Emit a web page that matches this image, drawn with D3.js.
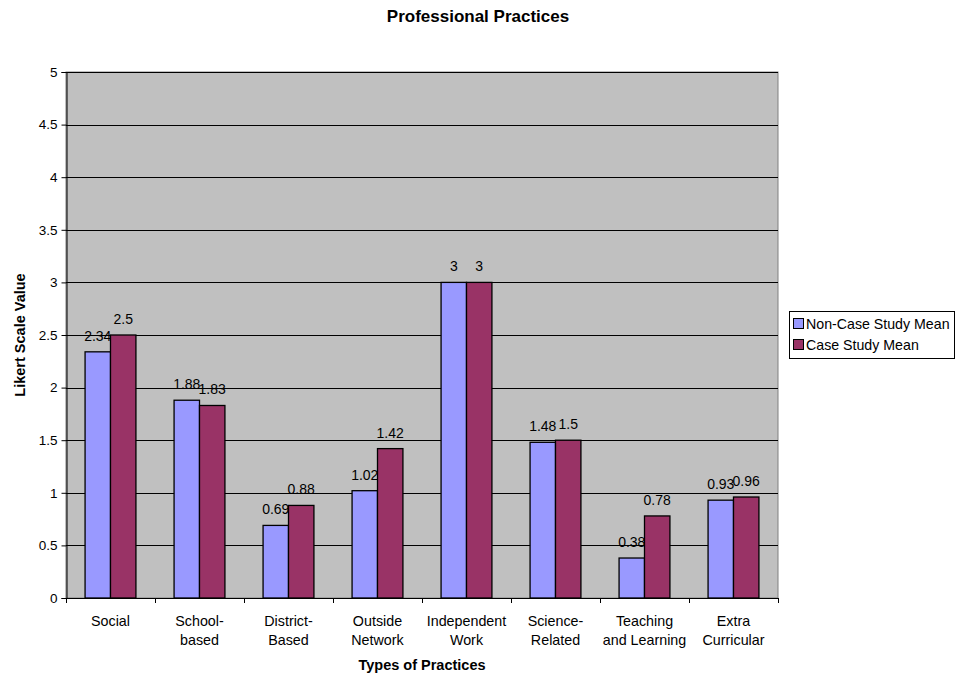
<!DOCTYPE html>
<html>
<head>
<meta charset="utf-8">
<script src="https://cdn.jsdelivr.net/npm/d3@7/dist/d3.min.js"></script>
<style>
  body { margin: 0; background: #fff; }
  svg { display: block; font-family: "Liberation Sans", Arial, sans-serif; }
</style>
</head>
<body>
<div id="chart"></div>
<script>
// Data
const categories = [
  ['Social'], ['School-', 'based'], ['District-', 'Based'], ['Outside', 'Network'],
  ['Independent', 'Work'], ['Science-', 'Related'], ['Teaching', 'and Learning'], ['Extra', 'Curricular']
];
const seriesNames = ['Non-Case Study Mean', 'Case Study Mean'];
const nonCase = [2.34, 1.88, 0.69, 1.02, 3, 1.48, 0.38, 0.93];
const caseStudy = [2.5, 1.83, 0.88, 1.42, 3, 1.5, 0.78, 0.96];
const yTicks = [0, 0.5, 1, 1.5, 2, 2.5, 3, 3.5, 4, 4.5, 5];
const colors = ['#9999FF', '#993366'];

const W = 956, H = 677;
const plot = { left: 66, right: 778, top: 72, bottom: 598 };

const svg = d3.select('#chart').append('svg')
  .attr('width', W).attr('height', H);

const x = d3.scaleBand()
  .domain(d3.range(categories.length))
  .range([plot.left, plot.right])
  .paddingInner(0).paddingOuter(0);

const y = d3.scaleLinear().domain([0, 5]).range([plot.bottom, plot.top]);

// plot background
svg.append('rect')
  .attr('x', plot.left).attr('y', plot.top)
  .attr('width', plot.right - plot.left).attr('height', plot.bottom - plot.top)
  .attr('fill', '#C0C0C0').attr('stroke', '#808080').attr('stroke-width', 1);

// gridlines
svg.append('g').selectAll('line')
  .data(yTicks.filter(d => d > 0))
  .join('line')
  .attr('x1', plot.left).attr('x2', plot.right)
  .attr('y1', d => Math.round(y(d)) + 0.5).attr('y2', d => Math.round(y(d)) + 0.5)
  .attr('stroke', '#000').attr('stroke-width', 1);

// bars
const band = x.bandwidth();
const barW = band / 3.5;
const groupOff = (band - 2 * barW) / 2;
const series = [nonCase, caseStudy];

series.forEach((vals, s) => {
  const g = svg.append('g');
  g.selectAll('rect')
    .data(vals)
    .join('rect')
    .attr('x', (d, i) => x(i) + groupOff + s * barW)
    .attr('y', d => y(d))
    .attr('width', barW)
    .attr('height', d => y(0) - y(d))
    .attr('fill', colors[s])
    .attr('stroke', '#000').attr('stroke-width', 1.3);

  g.selectAll('text')
    .data(vals)
    .join('text')
    .attr('x', (d, i) => x(i) + groupOff + s * barW + barW / 2)
    .attr('y', d => y(d) - 11)
    .attr('text-anchor', 'middle')
    .attr('font-size', 14)
    .attr('fill', '#000')
    .text(d => d);
});

// y axis
const yAxis = d3.axisLeft(y).tickValues(yTicks).tickSize(5).tickPadding(4)
  .tickFormat(d => d);
const yg = svg.append('g')
  .attr('transform', `translate(${plot.left + 0.5},0)`)
  .call(yAxis);
yg.select('.domain').attr('stroke', '#000');
yg.selectAll('.tick line').attr('stroke', '#000');
yg.selectAll('.tick text').attr('font-size', 13.5).attr('fill', '#000')
  .attr('font-family', '"Liberation Sans", Arial, sans-serif');

// x axis
svg.append('line')
  .attr('x1', plot.left).attr('x2', plot.right)
  .attr('y1', plot.bottom + 0.5).attr('y2', plot.bottom + 0.5)
  .attr('stroke', '#000');
svg.append('g').selectAll('line')
  .data(d3.range(categories.length + 1))
  .join('line')
  .attr('x1', i => Math.round(plot.left + i * band) + 0.5)
  .attr('x2', i => Math.round(plot.left + i * band) + 0.5)
  .attr('y1', plot.bottom).attr('y2', plot.bottom + 5)
  .attr('stroke', '#000');

const xl = svg.append('g').selectAll('text')
  .data(categories)
  .join('text')
  .attr('x', (d, i) => x(i) + band / 2)
  .attr('y', plot.bottom + 28)
  .attr('text-anchor', 'middle')
  .attr('font-size', 14.3)
  .attr('fill', '#000');
xl.each(function(lines) {
  const t = d3.select(this);
  lines.forEach((l, k) => {
    t.append('tspan').attr('x', t.attr('x')).attr('dy', k === 0 ? 0 : 19).text(l);
  });
});

// titles
svg.append('text')
  .attr('x', 478).attr('y', 22)
  .attr('text-anchor', 'middle')
  .attr('font-size', 17).attr('font-weight', 'bold')
  .text('Professional Practices');

svg.append('text')
  .attr('x', (plot.left + plot.right) / 2).attr('y', 670)
  .attr('text-anchor', 'middle')
  .attr('font-size', 14.5).attr('font-weight', 'bold')
  .text('Types of Practices');

svg.append('text')
  .attr('transform', `translate(25,${(plot.top + plot.bottom) / 2}) rotate(-90)`)
  .attr('text-anchor', 'middle')
  .attr('font-size', 14.5).attr('font-weight', 'bold')
  .text('Likert Scale Value');

// legend
const leg = svg.append('g').attr('transform', 'translate(789,311)');
leg.append('rect')
  .attr('x', 0.5).attr('y', 0.5).attr('width', 165).attr('height', 47)
  .attr('fill', '#fff').attr('stroke', '#000');
seriesNames.forEach((name, i) => {
  const row = leg.append('g').attr('transform', `translate(4,${7 + i * 21})`);
  row.append('rect')
    .attr('x', 0.5).attr('y', 0.5).attr('width', 10).attr('height', 10)
    .attr('fill', colors[i]).attr('stroke', '#000');
  row.append('text')
    .attr('x', 13).attr('y', 10.5)
    .attr('font-size', 14.2)
    .text(name);
});
</script>
</body>
</html>
